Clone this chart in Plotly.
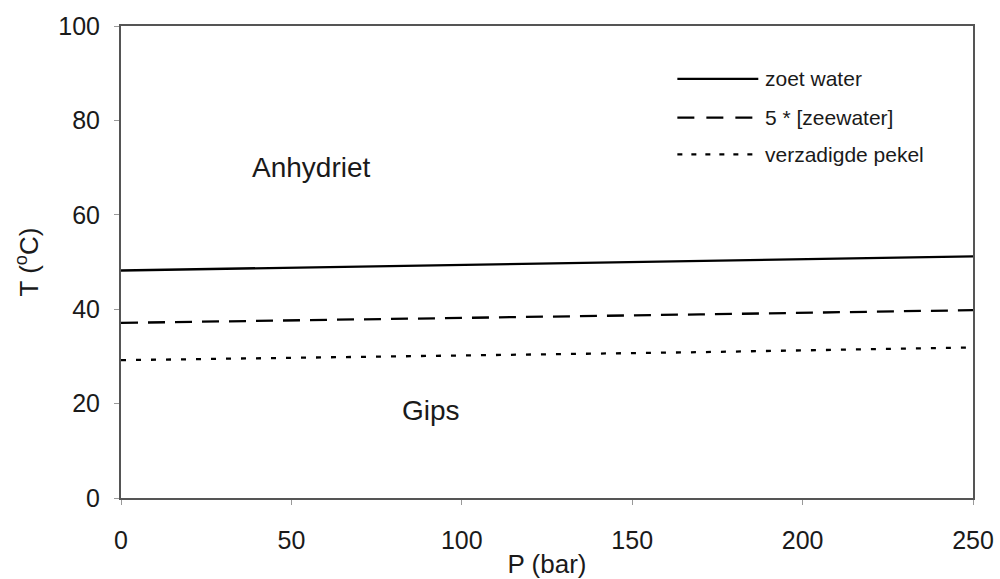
import plotly.graph_objects as go

P = [0, 100, 170, 250]
zoet_water = [48.2, 49.4, 50.2, 51.2]
zeewater_5x = [37.1, 38.1, 38.9, 39.8]
verzadigde_pekel = [29.2, 30.2, 30.9, 31.9]

x_ticks = [0, 50, 100, 150, 200, 250]
y_ticks = [0, 20, 40, 60, 80, 100]

legend_labels = ["zoet water", "5 * [zeewater]", "verzadigde pekel"]
region_labels = ["Anhydriet", "Gips"]
region_pos = [(56, 70), (91, 18.5)]

FONT = "Liberation Sans, Arial, sans-serif"
TXT = "#1a1a1a"
series = [(zoet_water, "solid"), (zeewater_5x, "17px,10px"), (verzadigde_pekel, "5px,10px")]

fig = go.Figure()
for (vals, dash), name in zip(series, legend_labels):
    fig.add_trace(go.Scatter(x=P, y=vals, mode="lines", name=name,
                             line=dict(color="black", width=2.3, dash=dash),
                             showlegend=False, hoverinfo="skip"))

# legend drawn inside the plot, as in the reference
leg_y = [0.888, 0.806, 0.728]
leg_dash = ["solid", "17px,12px", "5px,9px"]
for yy, dash, name in zip(leg_y, leg_dash, legend_labels):
    fig.add_shape(type="line", xref="paper", yref="paper", x0=0.653, x1=0.748, y0=yy, y1=yy,
                  line=dict(color="black", width=2.2, dash=dash))
    fig.add_annotation(xref="paper", yref="paper", x=0.753, y=yy, text=name, showarrow=False,
                       xanchor="left", yanchor="middle", font=dict(family=FONT, size=21, color=TXT))

for txt, (xx, yy) in zip(region_labels, region_pos):
    fig.add_annotation(x=xx, y=yy, text=txt, showarrow=False,
                       font=dict(family=FONT, size=28, color=TXT))

axis_common = dict(showline=True, linecolor="#555", linewidth=2, mirror=True,
                   showgrid=False, zeroline=False, ticks="outside", ticklen=5,
                   automargin=False,
                   tickcolor="#999", tickfont=dict(family=FONT, size=25, color=TXT))
fig.update_xaxes(range=[0, 250], tickvals=x_ticks, ticklabelstandoff=14,
                 title=dict(text="P (bar)", standoff=2,
                            font=dict(family=FONT, size=26, color=TXT)), **axis_common)
fig.update_yaxes(range=[0, 100], tickvals=y_ticks, ticklabelstandoff=9,
                 title=dict(text="T (<sup>o</sup>C)", standoff=12,
                            font=dict(family=FONT, size=26, color=TXT)), **axis_common)

fig.update_layout(width=1000, height=579, margin=dict(l=121, r=27, t=26, b=81, autoexpand=False),
                  plot_bgcolor="white", paper_bgcolor="white", showlegend=False)
fig.write_html("out.html", config={"displayModeBar": False},
               post_script="document.body.style.margin='0px';")
